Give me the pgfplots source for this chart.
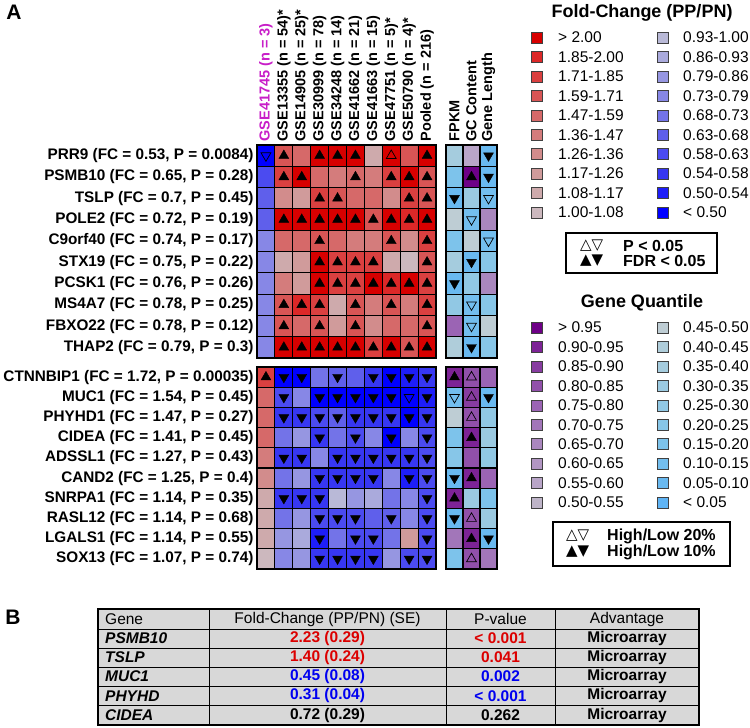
\documentclass[border=0pt]{standalone}
\usepackage{pgfplots}
\pgfplotsset{compat=1.18}
\usepackage{fontspec}
\setmainfont{Liberation Sans}
\newfontfamily\symfont{DejaVu Sans}
\definecolor{tblgrey}{RGB}{216,216,216}
\definecolor{gsemag}{RGB}{200,30,200}
\definecolor{tred}{RGB}{220,0,0}
\definecolor{tblue}{RGB}{0,0,240}
% fold-change colours (0 = <0.50 ... 19 = >2.00)
\definecolor{fc0}{RGB}{0,0,255}\definecolor{fc1}{RGB}{30,30,248}\definecolor{fc2}{RGB}{55,55,242}
\definecolor{fc3}{RGB}{75,75,240}\definecolor{fc4}{RGB}{95,95,235}\definecolor{fc5}{RGB}{115,115,232}
\definecolor{fc6}{RGB}{135,135,230}\definecolor{fc7}{RGB}{150,150,225}\definecolor{fc8}{RGB}{170,170,220}
\definecolor{fc9}{RGB}{185,185,215}\definecolor{fc10}{RGB}{204,184,190}\definecolor{fc11}{RGB}{206,170,172}
\definecolor{fc12}{RGB}{208,155,155}\definecolor{fc13}{RGB}{210,140,140}\definecolor{fc14}{RGB}{212,124,124}
\definecolor{fc15}{RGB}{214,105,105}\definecolor{fc16}{RGB}{216,85,85}\definecolor{fc17}{RGB}{218,64,64}
\definecolor{fc18}{RGB}{220,40,40}\definecolor{fc19}{RGB}{215,0,0}
% quantile colours (0 = <0.05 ... 19 = >0.95)
\definecolor{qc0}{RGB}{95,180,245}\definecolor{qc1}{RGB}{105,185,240}\definecolor{qc2}{RGB}{115,190,238}
\definecolor{qc3}{RGB}{125,195,235}\definecolor{qc4}{RGB}{135,198,232}\definecolor{qc5}{RGB}{145,200,228}
\definecolor{qc6}{RGB}{155,202,225}\definecolor{qc7}{RGB}{165,204,222}\definecolor{qc8}{RGB}{175,205,218}
\definecolor{qc9}{RGB}{190,205,212}\definecolor{qc10}{RGB}{190,180,200}\definecolor{qc11}{RGB}{185,165,200}
\definecolor{qc12}{RGB}{178,150,195}\definecolor{qc13}{RGB}{170,135,190}\definecolor{qc14}{RGB}{162,118,185}
\definecolor{qc15}{RGB}{155,100,180}\definecolor{qc16}{RGB}{145,80,170}\definecolor{qc17}{RGB}{135,60,160}
\definecolor{qc18}{RGB}{125,35,150}\definecolor{qc19}{RGB}{110,0,135}
\newcommand\rowfont{\fontsize{15.3}{17}\selectfont\bfseries}
\newcommand\colfont{\fontsize{14.5}{17}\selectfont\bfseries}
\newcommand\legfont{\fontsize{15.5}{18}\selectfont}
\newcommand\tabfont{\fontsize{15.5}{18}\selectfont}
\newcommand\sw[3]{\addplot[only marks, mark=square*, mark size=5.5pt, mark options={draw=black!75, fill=#3}] coordinates {(#1,#2)};}

\pgfplotsset{
 colormap={qc}{color=(qc0) color=(qc1) color=(qc2) color=(qc3) color=(qc4) color=(qc5) color=(qc6) color=(qc7) color=(qc8) color=(qc9)
   color=(qc10) color=(qc11) color=(qc12) color=(qc13) color=(qc14) color=(qc15) color=(qc16) color=(qc17) color=(qc18) color=(qc19)},
 colormap={fc}{color=(fc0) color=(fc1) color=(fc2) color=(fc3) color=(fc4) color=(fc5) color=(fc6) color=(fc7) color=(fc8) color=(fc9)
   color=(fc10) color=(fc11) color=(fc12) color=(fc13) color=(fc14) color=(fc15) color=(fc16) color=(fc17) color=(fc18) color=(fc19)},
 heat/.style={
   scale only axis, anchor=north west, axis on top,
   y dir=reverse, xmin=-0.5, ymin=-0.5, ymax=9.5,
   axis line style={black,line width=1.4pt},
   major tick length=0pt, minor tick length=0pt,
   xminorgrids=true, yminorgrids=true,
   minor grid style={black,line width=1.1pt},
   minor ytick={0.5,1.5,...,8.5},
   ytick={0,...,9},
   yticklabel style={font=\rowfont},
   xtick={0,...,9},
   xticklabel pos=right,
   xticklabel style={rotate=90,anchor=west,font=\colfont},
   colormap access=direct,
 },
 tri/.style={scatter, only marks, scatter src=explicit symbolic, mark size=5.7pt,
   scatter/classes={
     U={mark=triangle*,draw=black,fill=black},
     u={mark=triangle,draw=black,line width=0.7pt},
     D={mark=triangle*,draw=black,fill=black,rotate=180},
     d={mark=triangle,draw=black,line width=0.7pt,rotate=180}}},
 cells/.style={matrix plot*, point meta=explicit},
}

\begin{document}
\begin{tikzpicture}[x=1pt,y=1pt]
\useasboundingbox (0pt,0pt) rectangle (750pt,-728pt);

% ---------- top fold-change block ----------
\begin{axis}[heat, at={(257pt,-145pt)}, width=179pt, height=213pt, xmax=9.5,
  minor xtick={0.5,1.5,...,8.5}, colormap name=fc,
  xticklabels={{\textcolor{gsemag}{GSE41745 (n = 3)}},{GSE13355 (n = 54)*},{GSE14905 (n = 25)*},{GSE30999 (n = 78)},{GSE34248 (n = 14)},{GSE41662 (n = 21)},{GSE41663 (n = 15)},{GSE47751 (n = 5)*},{GSE50790 (n = 4)*},{Pooled (n = 216)}},
  yticklabels={{PRR9 (FC = 0.53, P = 0.0084)},{PSMB10 (FC = 0.65, P = 0.28)},{TSLP (FC = 0.7, P = 0.45)},{POLE2 (FC = 0.72, P = 0.19)},{C9orf40 (FC = 0.74, P = 0.17)},{STX19 (FC = 0.75, P = 0.22)},{PCSK1 (FC = 0.76, P = 0.26)},{MS4A7 (FC = 0.78, P = 0.25)},{FBXO22 (FC = 0.78, P = 0.12)},{THAP2 (FC = 0.79, P = 0.3)}}]
\addplot[cells, mesh/cols=10] table[x index=0,y index=1,meta index=2,header=false,row sep=\\]{
0 0 0\\1 0 16\\2 0 15\\3 0 19\\4 0 19\\5 0 19\\6 0 11\\7 0 19\\8 0 16\\9 0 19\\
0 1 3\\1 1 17\\2 1 19\\3 1 15\\4 1 14\\5 1 15\\6 1 14\\7 1 17\\8 1 19\\9 1 16\\
0 2 4\\1 2 13\\2 2 12\\3 2 17\\4 2 16\\5 2 15\\6 2 15\\7 2 13\\8 2 17\\9 2 16\\
0 3 4\\1 3 19\\2 3 19\\3 3 19\\4 3 19\\5 3 19\\6 3 16\\7 3 19\\8 3 18\\9 3 19\\
0 4 6\\1 4 15\\2 4 15\\3 4 16\\4 4 15\\5 4 14\\6 4 14\\7 4 16\\8 4 13\\9 4 17\\
0 5 6\\1 5 11\\2 5 12\\3 5 19\\4 5 17\\5 5 17\\6 5 17\\7 5 11\\8 5 10\\9 5 16\\
0 6 6\\1 6 14\\2 6 12\\3 6 19\\4 6 17\\5 6 17\\6 6 19\\7 6 18\\8 6 19\\9 6 17\\
0 7 6\\1 7 16\\2 7 18\\3 7 17\\4 7 11\\5 7 16\\6 7 14\\7 7 16\\8 7 14\\9 7 17\\
0 8 6\\1 8 16\\2 8 15\\3 8 16\\4 8 12\\5 8 16\\6 8 13\\7 8 15\\8 8 15\\9 8 16\\
0 9 6\\1 9 19\\2 9 19\\3 9 19\\4 9 19\\5 9 19\\6 9 17\\7 9 19\\8 9 16\\9 9 19\\
};
\addplot[tri] table[meta=t,row sep=\\]{
x y t\\
0 0 d\\1 0 U\\3 0 U\\4 0 U\\5 0 U\\7 0 u\\9 0 U\\
1 1 U\\2 1 U\\5 1 U\\7 1 U\\8 1 U\\9 1 U\\
3 2 U\\4 2 U\\8 2 U\\9 2 U\\
1 3 U\\2 3 U\\3 3 U\\4 3 U\\5 3 U\\6 3 U\\7 3 U\\8 3 U\\9 3 U\\
3 4 U\\7 4 U\\9 4 U\\
3 5 U\\4 5 U\\5 5 U\\6 5 U\\9 5 U\\
3 6 U\\4 6 U\\5 6 U\\6 6 U\\7 6 U\\8 6 U\\9 6 U\\
1 7 U\\2 7 U\\3 7 U\\5 7 U\\7 7 U\\9 7 U\\
1 8 U\\3 8 U\\5 8 U\\9 8 U\\
1 9 U\\2 9 U\\3 9 U\\4 9 U\\5 9 U\\6 9 U\\7 9 U\\8 9 U\\9 9 U\\
};
\end{axis}

% ---------- bottom fold-change block ----------
\begin{axis}[heat, at={(257pt,-367pt)}, width=179pt, height=202pt, xmax=9.5,
  minor xtick={0.5,1.5,...,8.5}, colormap name=fc, xticklabels={},
  yticklabels={{CTNNBIP1 (FC = 1.72, P = 0.00035)},{MUC1 (FC = 1.54, P = 0.45)},{PHYHD1 (FC = 1.47, P = 0.27)},{CIDEA (FC = 1.41, P = 0.45)},{ADSSL1 (FC = 1.27, P = 0.43)},{CAND2 (FC = 1.25, P = 0.4)},{SNRPA1 (FC = 1.14, P = 0.35)},{RASL12 (FC = 1.14, P = 0.68)},{LGALS1 (FC = 1.14, P = 0.55)},{SOX13 (FC = 1.07, P = 0.74)}}]
\addplot[cells, mesh/cols=10] table[x index=0,y index=1,meta index=2,header=false,row sep=\\]{
0 0 17\\1 0 0\\2 0 0\\3 0 5\\4 0 4\\5 0 4\\6 0 2\\7 0 0\\8 0 1\\9 0 2\\
0 1 15\\1 1 3\\2 1 6\\3 1 0\\4 1 0\\5 1 0\\6 1 0\\7 1 0\\8 1 0\\9 1 1\\
0 2 15\\1 2 2\\2 2 2\\3 2 3\\4 2 4\\5 2 2\\6 2 2\\7 2 2\\8 2 0\\9 2 2\\
0 3 15\\1 3 5\\2 3 7\\3 3 2\\4 3 5\\5 3 3\\6 3 6\\7 3 0\\8 3 6\\9 3 3\\
0 4 14\\1 4 2\\2 4 2\\3 4 6\\4 4 2\\5 4 2\\6 4 2\\7 4 2\\8 4 2\\9 4 3\\
0 5 13\\1 5 5\\2 5 7\\3 5 2\\4 5 2\\5 5 2\\6 5 2\\7 5 6\\8 5 1\\9 5 3\\
0 6 11\\1 6 2\\2 6 2\\3 6 2\\4 6 9\\5 6 7\\6 6 8\\7 6 5\\8 6 6\\9 6 3\\
0 7 11\\1 7 5\\2 7 7\\3 7 3\\4 7 3\\5 7 3\\6 7 4\\7 7 4\\8 7 6\\9 7 3\\
0 8 11\\1 8 7\\2 8 8\\3 8 1\\4 8 5\\5 8 3\\6 8 3\\7 8 5\\8 8 12\\9 8 3\\
0 9 10\\1 9 6\\2 9 7\\3 9 2\\4 9 2\\5 9 2\\6 9 2\\7 9 7\\8 9 3\\9 9 3\\
};
\addplot[tri] table[meta=t,row sep=\\]{
x y t\\
0 0 U\\1 0 D\\2 0 D\\4 0 D\\6 0 D\\7 0 D\\8 0 D\\9 0 D\\
1 1 D\\3 1 D\\4 1 D\\5 1 D\\6 1 D\\7 1 D\\8 1 d\\9 1 D\\
1 2 D\\2 2 D\\3 2 D\\4 2 D\\5 2 D\\6 2 D\\7 2 D\\8 2 D\\9 2 D\\
3 3 D\\5 3 D\\7 3 D\\9 3 D\\
1 4 D\\2 4 D\\4 4 D\\5 4 D\\6 4 D\\7 4 D\\8 4 D\\9 4 D\\
3 5 D\\4 5 D\\5 5 D\\6 5 D\\8 5 D\\9 5 D\\
1 6 D\\2 6 D\\3 6 D\\9 6 D\\
3 7 D\\4 7 D\\5 7 D\\7 7 D\\9 7 D\\
3 8 D\\5 8 D\\6 8 D\\9 8 D\\
3 9 D\\4 9 D\\5 9 D\\6 9 D\\8 9 D\\9 9 D\\
};
\end{axis}

% ---------- top quantile block ----------
\begin{axis}[heat, at={(446pt,-145pt)}, width=51pt, height=213pt, xmax=2.5,
  minor xtick={0.5,1.5}, xtick={0,1,2}, colormap name=qc, yticklabels={},
  xticklabels={FPKM,GC Content,Gene Length}]
\addplot[cells, mesh/cols=3] table[x index=0,y index=1,meta index=2,header=false,row sep=\\]{
0 0 7\\1 0 11\\2 0 1\\
0 1 3\\1 1 19\\2 1 1\\
0 2 1\\1 2 6\\2 2 2\\
0 3 9\\1 3 2\\2 3 13\\
0 4 3\\1 4 9\\2 4 2\\
0 5 7\\1 5 1\\2 5 4\\
0 6 1\\1 6 5\\2 6 13\\
0 7 5\\1 7 2\\2 7 4\\
0 8 15\\1 8 2\\2 8 9\\
0 9 8\\1 9 1\\2 9 4\\
};
\addplot[tri] table[meta=t,row sep=\\]{
x y t\\
2 0 D\\1 1 U\\2 1 D\\0 2 D\\2 2 d\\1 3 d\\2 4 d\\1 5 D\\0 6 D\\1 7 d\\1 8 d\\1 9 D\\
};
\end{axis}

% ---------- bottom quantile block ----------
\begin{axis}[heat, at={(446pt,-367pt)}, width=51pt, height=202pt, xmax=2.5,
  minor xtick={0.5,1.5}, xtick={0,1,2}, colormap name=qc, yticklabels={}, xticklabels={}]
\addplot[cells, mesh/cols=3] table[x index=0,y index=1,meta index=2,header=false,row sep=\\]{
0 0 18\\1 0 16\\2 0 15\\
0 1 2\\1 1 17\\2 1 1\\
0 2 9\\1 2 16\\2 2 5\\
0 3 3\\1 3 18\\2 3 6\\
0 4 4\\1 4 16\\2 4 5\\
0 5 1\\1 5 18\\2 5 15\\
0 6 18\\1 6 6\\2 6 3\\
0 7 1\\1 7 16\\2 7 6\\
0 8 14\\1 8 18\\2 8 1\\
0 9 3\\1 9 16\\2 9 14\\
};
\addplot[tri] table[meta=t,row sep=\\]{
x y t\\
0 0 U\\1 0 u\\0 1 d\\1 1 u\\2 1 D\\1 2 u\\1 3 U\\0 5 D\\1 5 U\\0 6 U\\0 7 D\\1 7 u\\1 8 U\\2 8 D\\1 9 u\\
};
\end{axis}

% ---------- legend swatches ----------
\begin{axis}[at={(0pt,0pt)}, anchor=north west, scale only axis, width=750pt, height=728pt,
  xmin=0,xmax=750,ymin=0,ymax=728,y dir=reverse, hide axis, clip=false]
\sw{537}{37.5}{fc19}\sw{537}{56.9}{fc18}\sw{537}{76.4}{fc17}\sw{537}{95.8}{fc16}\sw{537}{115.3}{fc15}
\sw{537}{134.7}{fc14}\sw{537}{154.1}{fc13}\sw{537}{173.6}{fc12}\sw{537}{193.0}{fc11}\sw{537}{212.5}{fc10}
\sw{662.5}{37.5}{fc9}\sw{662.5}{56.9}{fc8}\sw{662.5}{76.4}{fc7}\sw{662.5}{95.8}{fc6}\sw{662.5}{115.3}{fc5}
\sw{662.5}{134.7}{fc4}\sw{662.5}{154.1}{fc3}\sw{662.5}{173.6}{fc2}\sw{662.5}{193.0}{fc1}\sw{662.5}{212.5}{fc0}
\sw{537}{327.5}{qc19}\sw{537}{346.9}{qc18}\sw{537}{366.4}{qc17}\sw{537}{385.8}{qc16}\sw{537}{405.3}{qc15}
\sw{537}{424.7}{qc14}\sw{537}{444.1}{qc13}\sw{537}{463.6}{qc12}\sw{537}{483.0}{qc11}\sw{537}{502.5}{qc10}
\sw{662.5}{327.5}{qc9}\sw{662.5}{346.9}{qc8}\sw{662.5}{366.4}{qc7}\sw{662.5}{385.8}{qc6}\sw{662.5}{405.3}{qc5}
\sw{662.5}{424.7}{qc4}\sw{662.5}{444.1}{qc3}\sw{662.5}{463.6}{qc2}\sw{662.5}{483.0}{qc1}\sw{662.5}{502.5}{qc0}
\end{axis}

% ---------- legend texts ----------
\node[font=\fontsize{18}{20}\selectfont\bfseries] at (642,-13) {Fold-Change (PP/PN)};
\foreach \t [count=\i from 0] in {{> 2.00},{1.85-2.00},{1.71-1.85},{1.59-1.71},{1.47-1.59},{1.36-1.47},{1.26-1.36},{1.17-1.26},{1.08-1.17},{1.00-1.08}}
  \node[anchor=west,font=\legfont,inner sep=0pt] at (558,{-37.5-19.44*\i}) {\t};
\foreach \t [count=\i from 0] in {{0.93-1.00},{0.86-0.93},{0.79-0.86},{0.73-0.79},{0.68-0.73},{0.63-0.68},{0.58-0.63},{0.54-0.58},{0.50-0.54},{< 0.50}}
  \node[anchor=west,font=\legfont,inner sep=0pt] at (683,{-37.5-19.44*\i}) {\t};
\draw[line width=1.5pt] (566,-233) rectangle (717,-273);
\node[anchor=west,inner sep=0pt,font=\symfont\fontsize{15}{17}\selectfont] at (580,-246) {△▽};
\node[anchor=west,inner sep=0pt,font=\symfont\fontsize{15}{17}\selectfont] at (580,-261) {▲▼};
\node[anchor=west,inner sep=0pt,font=\fontsize{16}{18}\selectfont\bfseries] at (623,-246) {P < 0.05};
\node[anchor=west,inner sep=0pt,font=\fontsize{16}{18}\selectfont\bfseries] at (623,-261) {FDR < 0.05};

\node[font=\fontsize{18}{20}\selectfont\bfseries] at (642,-303) {Gene Quantile};
\foreach \t [count=\i from 0] in {{> 0.95},{0.90-0.95},{0.85-0.90},{0.80-0.85},{0.75-0.80},{0.70-0.75},{0.65-0.70},{0.60-0.65},{0.55-0.60},{0.50-0.55}}
  \node[anchor=west,font=\legfont,inner sep=0pt] at (558,{-327.5-19.44*\i}) {\t};
\foreach \t [count=\i from 0] in {{0.45-0.50},{0.40-0.45},{0.35-0.40},{0.30-0.35},{0.25-0.30},{0.20-0.25},{0.15-0.20},{0.10-0.15},{0.05-0.10},{< 0.05}}
  \node[anchor=west,font=\legfont,inner sep=0pt] at (683,{-327.5-19.44*\i}) {\t};
\draw[line width=1.5pt] (553,-522) rectangle (730,-566);
\node[anchor=west,inner sep=0pt,font=\symfont\fontsize{15}{17}\selectfont] at (566,-536) {△▽};
\node[anchor=west,inner sep=0pt,font=\symfont\fontsize{15}{17}\selectfont] at (566,-552) {▲▼};
\node[anchor=west,inner sep=0pt,font=\fontsize{16}{18}\selectfont\bfseries] at (607,-536) {High/Low 20\%};
\node[anchor=west,inner sep=0pt,font=\fontsize{16}{18}\selectfont\bfseries] at (607,-552) {High/Low 10\%};

% ---------- panel labels ----------
\node[font=\fontsize{21}{24}\selectfont\bfseries] at (14,-12) {A};
\node[font=\fontsize{21}{24}\selectfont\bfseries] at (13,-617) {B};

% ---------- table B ----------
\fill[tblgrey] (98,-609) rectangle (699,-725);
\foreach \yy in {629,648,667,686,705} \draw[line width=1pt] (98,-\yy) -- (699,-\yy);
\foreach \xx in {209,446,555} \draw[line width=1pt] (\xx,-609) -- (\xx,-725);
\draw[line width=1.6pt] (98,-609) rectangle (699,-725);
\begin{scope}[every node/.style={inner sep=0pt,font=\tabfont}]
\node[anchor=west] at (105,-619) {Gene};
\node at (327.5,-619) {Fold-Change (PP/PN) (SE)};
\node at (500.5,-619) {P-value};
\node at (627,-619) {Advantage};
\foreach \g/\f/\p/\c [count=\i from 1] in {PSMB10/2.23 (0.29)/{< 0.001}/tred, TSLP/1.40 (0.24)/0.041/tred, MUC1/0.45 (0.08)/0.002/tblue, PHYHD/0.31 (0.04)/{< 0.001}/tblue, CIDEA/0.72 (0.29)/0.262/black}{
  \node[anchor=west] at (105,{-619-19.2*\i}) {\bfseries\itshape \g};
  \node[text=\c] at (327.5,{-619-19.2*\i}) {\bfseries \f};
  \node[text=\c] at (500.5,{-619-19.2*\i}) {\bfseries \p};
  \node at (627,{-619-19.2*\i}) {\bfseries Microarray};
}
\end{scope}
\end{tikzpicture}
\end{document}
